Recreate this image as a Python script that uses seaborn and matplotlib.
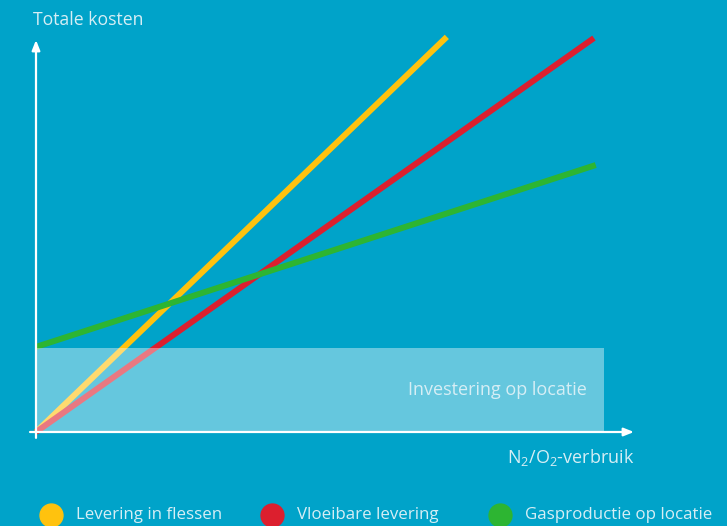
import matplotlib
matplotlib.use("Agg")
import matplotlib.pyplot as plt
import seaborn as sns
import pandas as pd
from matplotlib.lines import Line2D

# data (arbitrary units, axis runs 0..100 on both sides)
series = ["Levering in flessen", "Vloeibare levering", "Gasproductie op locatie"]
x_start = [0, 0, 0]
x_end = [68.7, 93.3, 93.6]
y_start = [0, 0, 21.7]
y_end = [100.8, 100.5, 68.1]
investering_x = [0, 95.0]
investering_y = 21.4
colors = ["#FFC20E", "#DC1F2E", "#2DB532"]

bg = "#00A3C9"
txt = "#D6EEF5"

sns.set_theme(style="white")
plt.rcParams["font.family"] = ["Open Sans", "DejaVu Sans"]
plt.rcParams["mathtext.fontset"] = "custom"
plt.rcParams["mathtext.rm"] = "Open Sans"
plt.rcParams["mathtext.it"] = "Open Sans"

rows = []
for s, x0, x1, y0, y1 in zip(series, x_start, x_end, y_start, y_end):
    rows.append({"serie": s, "x": x0, "y": y0})
    rows.append({"serie": s, "x": x1, "y": y1})
df = pd.DataFrame(rows)

fig = plt.figure(figsize=(7.27, 5.26), dpi=100)
fig.patch.set_facecolor(bg)
ax = fig.add_axes([36 / 727, 94 / 526, 598 / 727, 392 / 526])
ax.set_facecolor(bg)

sns.lineplot(data=df, x="x", y="y", hue="serie", palette=colors, linewidth=4.3,
             legend=False, ax=ax, clip_on=False, solid_capstyle="butt")

ax.fill_between(investering_x, 0, investering_y, color="white", alpha=0.4,
                linewidth=0, zorder=5)

ax.set_xlim(0, 100)
ax.set_ylim(0, 100)
for sp in ax.spines.values():
    sp.set_visible(False)
ax.set_xticks([])
ax.set_yticks([])
ax.set_xlabel("")
ax.set_ylabel("")

# axes with arrow heads
arrow = dict(arrowstyle="-|>,head_length=0.5,head_width=0.2", color="white", lw=1.6,
             shrinkA=0, shrinkB=0)
ax.annotate("", xy=(100, 0), xytext=(-1, 0), arrowprops=arrow, annotation_clip=False, zorder=6)
ax.annotate("", xy=(0, 100), xytext=(0, -1.5), arrowprops=arrow, annotation_clip=False, zorder=6)

fig.text(33 / 727, 1 - 20 / 526, "Totale kosten", color=txt, fontsize=12.7,
         ha="left", va="center")
fig.text(634 / 727, 1 - 457 / 526, r"N$_2$/O$_2$-verbruik", color=txt, fontsize=13,
         ha="right", va="center")
ax.text(92.1, investering_y / 2, "Investering op locatie", color=txt, fontsize=13,
        ha="right", va="center", zorder=7)

# legend, placed item by item
leg_x = [51, 272, 500]
leg_y = 1 - 515 / 526
for s, c, lx in zip(series, colors, leg_x):
    fig.add_artist(Line2D([lx / 727], [leg_y], transform=fig.transFigure, marker="o",
                          linestyle="", markersize=16.5, markerfacecolor=c, markeredgecolor=c))
    fig.text((lx + 25) / 727, leg_y, s, color=txt, fontsize=12.2, ha="left", va="center")

fig.savefig("out.png", dpi=100, facecolor=bg)
